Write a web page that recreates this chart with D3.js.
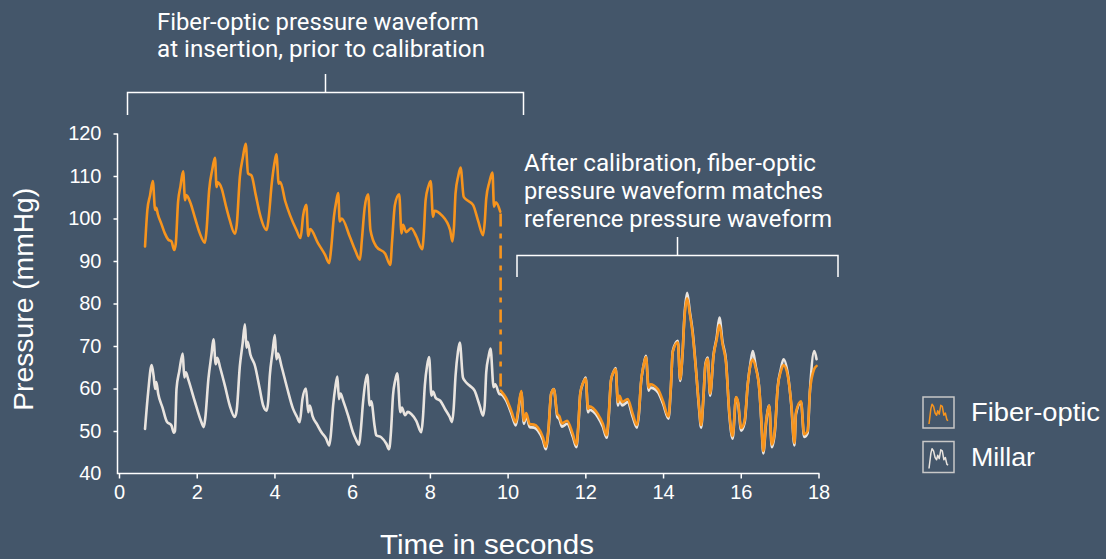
<!DOCTYPE html>
<html>
<head>
<meta charset="utf-8">
<script src="https://cdn.jsdelivr.net/npm/d3@7"></script>
<style>
  html, body { margin: 0; padding: 0; background: #44566a; }
  svg { display: block; }
</style>
</head>
<body>
<div id="chart"></div>
<script>
// Millar reference catheter (seconds, mmHg)
const millarT = [0.67,0.75,0.84,0.89,0.93,0.96,1.01,1.12,1.23,1.35,1.41,1.44,1.48,1.55,1.64,1.68,1.72,1.78,1.95,2.12,2.18,2.22,2.30,2.38,2.43,2.49,2.53,2.60,2.73,2.85,2.98,3.03,3.11,3.18,3.24,3.28,3.31,3.38,3.50,3.62,3.71,3.80,3.84,3.88,3.95,4.01,4.05,4.09,4.18,4.33,4.48,4.58,4.65,4.72,4.81,4.87,4.91,4.98,5.10,5.21,5.33,5.41,5.45,5.51,5.57,5.62,5.66,5.70,5.77,5.90,6.02,6.10,6.18,6.22,6.28,6.34,6.39,6.45,6.49,6.58,6.62,6.75,6.88,6.95,7.00,7.05,7.11,7.16,7.24,7.28,7.36,7.43,7.52,7.65,7.78,7.82,7.87,7.93,7.98,8.04,8.08,8.15,8.27,8.40,8.51,8.57,8.61,8.66,8.72,8.77,8.85,8.90,9.02,9.15,9.28,9.37,9.41,9.45,9.51,9.56,9.64,9.68,9.79,9.84,9.96,10.10,10.21,10.28,10.35,10.42,10.48,10.57,10.68,10.78,10.91,10.98,11.05,11.12,11.19,11.28,11.33,11.40,11.53,11.68,11.77,11.82,11.87,11.95,12.01,12.07,12.10,12.32,12.45,12.55,12.60,12.66,12.73,12.78,12.84,12.88,12.95,13.09,13.22,13.33,13.38,13.43,13.50,13.56,13.63,13.67,13.87,14.00,14.14,14.20,14.25,14.38,14.44,14.50,14.55,14.62,14.69,14.76,14.85,14.92,14.98,15.04,15.09,15.15,15.21,15.30,15.38,15.45,15.53,15.62,15.71,15.79,15.88,15.93,16.01,16.10,16.18,16.25,16.31,16.38,16.48,16.53,16.58,16.65,16.73,16.80,16.88,16.95,17.03,17.10,17.21,17.30,17.38,17.42,17.55,17.63,17.72,17.78,17.89,17.95];
const millarP = [50.5,59.1,65.5,63,59.9,61.5,58.7,55.5,52.2,51.3,49.6,50,59.9,64,68.2,62.6,63.8,62.2,57,52.1,50.9,53,62.2,68,71.6,65.7,67.2,65,60.5,56,53.3,55,65.3,70.5,75.1,69.6,71,68,65.3,60,56,54.8,57,63,68.5,72.6,66.9,68.2,65.3,60,55.2,53.3,52.1,57.5,60,54.4,56,53.5,51.5,49.7,48.2,46.6,49,56,60.5,62.8,57.5,58.8,57.1,53.5,49.7,48,46.8,50,56.8,61.5,63.2,56,57,51,49,48.5,47,45.7,50,58.3,62,63.6,54.4,55.5,53.7,54.5,54,52.4,49.7,53,60.7,65.5,67.4,58.3,59.3,57.8,57.1,55,53.3,52.1,55,63,68.5,70.8,62.6,61.8,60.7,59.5,56,53.6,56,63.8,67.5,69.4,60.3,61,58.7,58.6,57.2,54,51.3,55,59.1,51.7,53.6,50.9,50.8,50.1,47.8,45.7,50,58.7,59.9,53.3,52.8,51,51.7,48.6,46.2,51,58.7,61.5,62.6,54.4,55,53.3,51,48.4,53,61.8,64,64.8,56,57.5,56,56.8,53.3,50.8,54,61,65.5,67.7,59.5,60.2,59.1,56.4,52.9,60,68.8,71.2,61.8,68,77,82.5,78,73.5,64.2,56,50.8,58,65.7,67.3,58.3,68,72,76.7,71,66.5,53.3,48.2,57.9,56.5,50.1,52,61,66,68.8,65.5,59.5,52,44.7,51.7,56,46.2,50.1,60.3,64.5,66.9,63.4,56,46.6,54,56.8,48.6,49.5,59.5,68.8,66.9];

// Fiber-optic sensor, before calibration
const fiberPreT = [0.67,0.73,0.80,0.87,0.93,0.96,1.00,1.10,1.18,1.27,1.35,1.42,1.46,1.52,1.58,1.65,1.70,1.73,1.83,1.96,2.08,2.21,2.25,2.32,2.40,2.47,2.51,2.54,2.64,2.75,2.85,2.98,3.03,3.11,3.19,3.26,3.32,3.41,3.52,3.62,3.80,3.85,3.93,4.00,4.05,4.11,4.15,4.28,4.40,4.57,4.67,4.74,4.82,4.87,4.92,5.12,5.30,5.41,5.46,5.53,5.59,5.64,5.68,5.73,5.94,6.08,6.20,6.25,6.32,6.41,6.47,6.62,6.85,6.98,7.03,7.10,7.21,7.27,7.31,7.39,7.52,7.65,7.80,7.84,7.89,7.96,8.02,8.08,8.12,8.30,8.52,8.58,8.62,8.66,8.73,8.79,8.87,8.93,9.11,9.24,9.37,9.41,9.45,9.53,9.61,9.65,9.70,9.81];
const fiberPreP = [93.4,102,105.5,108.8,102,102.5,101,98.5,96.5,95,94.6,92.6,94,103.9,107.5,111.1,104.3,105.5,103.9,100,96.5,94.3,97,106.7,111.5,114.3,107.4,108.5,107.1,103,99.6,96.4,98.5,109.8,114.5,117.6,110.6,110.1,105.5,101.2,97.3,100,108.2,113,115.1,108.2,108.6,104,100.8,97.2,95.4,100.8,103.2,95.9,97.5,94.2,91.5,89.5,93,100.4,104,106,99.3,100,95.7,92.5,90.3,95,102.4,105.7,97.3,93.4,91.7,89.1,95,103.2,105.7,96.5,98.5,96.8,97.7,95.8,92.8,96,104.3,107.5,108.8,100.4,101.8,100.8,97.3,94.6,98,105.9,110,112,105.1,104.5,103.2,99.5,96.1,99,104.7,108.5,110.8,102.8,103.8,101.6];

// Fiber-optic sensor, after calibration
const fiberPostT = [9.82,9.84,9.96,10.10,10.21,10.28,10.35,10.42,10.48,10.57,10.68,10.78,10.91,10.98,11.05,11.12,11.19,11.28,11.33,11.40,11.53,11.68,11.77,11.82,11.87,11.95,12.01,12.07,12.10,12.32,12.45,12.55,12.60,12.66,12.73,12.78,12.84,12.88,12.95,13.09,13.22,13.33,13.38,13.43,13.50,13.56,13.63,13.67,13.87,14.00,14.14,14.20,14.25,14.38,14.44,14.50,14.55,14.62,14.69,14.76,14.85,14.92,14.98,15.04,15.09,15.15,15.21,15.30,15.38,15.45,15.53,15.62,15.71,15.79,15.88,15.93,16.01,16.10,16.18,16.25,16.31,16.38,16.48,16.53,16.58,16.65,16.73,16.80,16.88,16.95,17.03,17.10,17.21,17.30,17.38,17.42,17.55,17.63,17.72,17.78,17.89,17.95];
const fiberPostP = [59.5,59.3,57.8,54.6,52,55.5,59.4,52.4,54.2,51.6,51.5,50.8,48.5,46.3,50.5,58.8,59.8,54,53.5,51.8,52.4,49.2,46.8,51.5,58.9,61.5,62.3,55.2,55.8,54,51.7,49,53.5,62,64,64.6,56.8,58.3,56.8,57.5,54,51.4,54.5,61.2,65.5,67.4,60.2,61,59.8,57,53.4,60.3,68.6,70.9,62.2,68,76.5,81.2,77.5,73,64,56.4,51.4,58.2,65.5,67,58.8,67.8,71.5,75,70.5,66,53.8,48.8,58,56.8,50.7,52.5,61,65.5,66.8,65,59.5,52.5,45.3,52.2,56,46.8,50.6,60.2,64,65.5,63,56.3,47.2,54.4,57,49.2,50,59.5,64.6,65.3];

// Calibration step: time and pressures at the jump
const calibT = 9.82;
const calibFrom = 101.2;
const calibTo = 59.5;

const xTicks = [0, 2, 4, 6, 8, 10, 12, 14, 16, 18];
const yTicks = [40, 50, 60, 70, 80, 90, 100, 110, 120];

const legendNames = ["Fiber-optic", "Millar"];
// little waveform glyph drawn in the legend boxes
const iconX = [0, 1, 1.6, 2.4, 3.2, 4, 4.6, 5.4, 6.2, 7, 7.8, 8.6, 9.4, 10];
const iconY = [0, 7, 9, 8, 5, 4, 6, 4.5, 8.5, 8, 4, 5, 2, 1.5];

const orange = "#f7941d";
const white = "#e9e4df";
const fg = "#ffffff";

const width = 1106, height = 559;
const svg = d3.select("#chart").append("svg")
  .attr("width", width)
  .attr("height", height);

svg.append("rect").attr("width", width).attr("height", height).attr("fill", "#44566a");

const x = d3.scaleLinear().domain([0, 18]).range([119, 818.5]);
const y = d3.scaleLinear().domain([40, 120]).range([473.5, 133.5]);

const font = "'Liberation Sans', Arial, Helvetica, sans-serif";

// axes
const yAxis = svg.append("g")
  .attr("transform", "translate(117.5,0)")
  .call(d3.axisLeft(y).tickValues(yTicks).tickSize(4).tickPadding(12).tickSizeOuter(0));
yAxis.select(".domain").remove();
yAxis.selectAll(".tick line").attr("stroke", fg).attr("stroke-width", 1.5)
  .filter(d => d === 40).remove();
yAxis.selectAll(".tick text").attr("fill", fg).style("font", `20px ${font}`);

const xAxis = svg.append("g")
  .attr("transform", "translate(0,473.5)")
  .call(d3.axisBottom(x).tickValues(xTicks).tickSize(5).tickPadding(6).tickSizeOuter(0));
xAxis.select(".domain").remove();
xAxis.selectAll(".tick line").attr("stroke", fg).attr("stroke-width", 1.5);
xAxis.selectAll(".tick text").attr("fill", fg).style("font", `20px ${font}`);

svg.append("path")
  .attr("d", `M117.5,${y(120)}V${y(40)}H${x(18) + 1}`)
  .attr("fill", "none").attr("stroke", fg).attr("stroke-width", 1.5);

svg.append("text")
  .attr("x", 487).attr("y", 554)
  .attr("text-anchor", "middle")
  .attr("fill", fg)
  .attr("textLength", 214).attr("lengthAdjust", "spacingAndGlyphs")
  .style("font", `28px ${font}`)
  .text("Time in seconds");

svg.append("text")
  .attr("transform", `translate(33,${y(81)}) rotate(-90)`)
  .attr("text-anchor", "middle")
  .attr("fill", fg)
  .attr("textLength", 223).attr("lengthAdjust", "spacingAndGlyphs")
  .style("font", `27px ${font}`)
  .text("Pressure (mmHg)");

// series
const line = d3.line().x(d => x(d[0])).y(d => y(d[1])).curve(d3.curveMonotoneX);
const millar = d3.zip(millarT, millarP);
const fiberPre = d3.zip(fiberPreT, fiberPreP);
const fiberPost = d3.zip(fiberPostT, fiberPostP);

const plot = svg.append("g").attr("fill", "none")
  .attr("stroke-linejoin", "round").attr("stroke-linecap", "round");

plot.append("path").datum(millar).attr("d", line)
  .attr("stroke", white).attr("stroke-width", 2.6);

plot.append("path").datum(fiberPre).attr("d", line)
  .attr("stroke", orange).attr("stroke-width", 2.6);

plot.append("path").datum([[calibT, calibFrom], [calibT, calibTo]]).attr("d", d3.line().x(d => x(d[0])).y(d => y(d[1])))
  .attr("stroke", orange).attr("stroke-width", 2.6)
  .attr("stroke-linecap", "butt")
  .attr("stroke-dasharray", "13,7,5,7");

plot.append("path").datum(fiberPost).attr("d", line)
  .attr("stroke", orange).attr("stroke-width", 2.6);

// annotations
const ann = svg.append("g").attr("fill", fg).style("font", `24px Roboto, ${font}`);
const annText = (tx, ty, len, s) => ann.append("text")
  .attr("x", tx).attr("y", ty)
  .attr("textLength", len).attr("lengthAdjust", "spacingAndGlyphs")
  .text(s);
annText(157, 30, 322, "Fiber-optic pressure waveform");
annText(157, 57, 328, "at insertion, prior to calibration");
annText(524, 171, 292, "After calibration, fiber-optic");
annText(524, 199, 299, "pressure waveform matches");
annText(524, 227, 308, "reference pressure waveform");

const bracket = (x0, x1, yTop, yBot, yStem) =>
  `M${x0},${yBot}V${yTop}H${x1}V${yBot}M${(x0 + x1) / 2},${yTop}V${yStem}`;
svg.append("path").attr("d", bracket(127.5, 523.5, 92.5, 115, 74))
  .attr("fill", "none").attr("stroke", fg).attr("stroke-width", 1.5);
svg.append("path").attr("d", bracket(517, 838, 255.5, 277, 237))
  .attr("fill", "none").attr("stroke", fg).attr("stroke-width", 1.5);

// legend
const ix = d3.scaleLinear().domain([0, 10]).range([6, 25]);
const iy = d3.scaleLinear().domain([0, 10]).range([27, 5]);
const iconLine = d3.line().x((d, i) => ix(iconX[i])).y(d => iy(d));
const legend = svg.append("g").attr("transform", "translate(923,397)");
legendNames.forEach((name, i) => {
  const g = legend.append("g").attr("transform", `translate(0,${i * 44.5})`);
  g.append("rect").attr("width", 31).attr("height", 31)
    .attr("fill", "none").attr("stroke", "#c8c8c8").attr("stroke-width", 1.5);
  g.append("path").attr("d", iconLine(iconY))
    .attr("fill", "none").attr("stroke", i === 0 ? orange : white)
    .attr("stroke-width", 1.5).attr("stroke-linejoin", "round");
  g.append("text").attr("x", 48).attr("y", 24)
    .attr("fill", fg).attr("textLength", i === 0 ? 129 : 64)
    .attr("lengthAdjust", "spacingAndGlyphs")
    .style("font", `25px ${font}`).text(name);
});
</script>
</body>
</html>
